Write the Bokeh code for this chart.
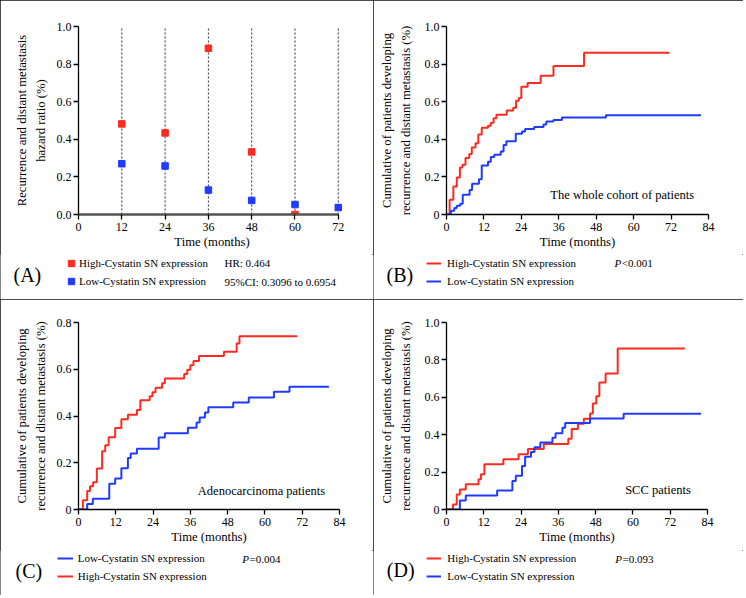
from bokeh.plotting import figure
from bokeh.layouts import column, row
from bokeh.models import Legend, LegendItem, Label, FixedTicker, PrintfTickFormatter, Range1d
from bokeh.embed import file_html
from bokeh.resources import INLINE

FONT = "Liberation Serif"
RED = "#ff2a1f"
BLUE = "#1f3bff"

# ---------------- data ----------------
# (A) hazard ratio per time point
a_months = [12, 24, 36, 48, 60, 72]
a_high_months = [12, 24, 36, 48, 60]
a_high = [0.482, 0.434, 0.884, 0.333, 0.0]
a_low_months = [12, 24, 36, 48, 60, 72]
a_low = [0.270, 0.258, 0.130, 0.075, 0.053, 0.037]

# (B) whole cohort
b_high_t = [0, 1.0, 2.2, 3.3, 4.3, 5.1, 6.1, 7.3, 8.1, 9.3, 10.2, 11.3, 13.3, 14.2, 15.1, 16.0,
            19.3, 21.4, 22.3, 23.2, 24.0, 26.0, 30.2, 34.3, 44.1, 71.5]
b_high_v = [0, 0.078, 0.149, 0.197, 0.25, 0.265, 0.30, 0.322, 0.356, 0.379, 0.425, 0.461, 0.472,
            0.488, 0.512, 0.530, 0.553, 0.568, 0.605, 0.62, 0.68, 0.70, 0.738, 0.79, 0.861, 0.861]
b_low_t = [0, 1.4, 2.5, 3.3, 4.4, 5.2, 7.4, 8.2, 10.4, 11.3, 13.3, 14.2, 15.3, 17.4, 18.3, 19.2,
           22.2, 24.2, 25.2, 28.1, 31.1, 32.0, 34.3, 37.0, 51.1, 81.6]
b_low_v = [0, 0.02, 0.034, 0.046, 0.057, 0.105, 0.13, 0.164, 0.187, 0.26, 0.28, 0.306, 0.318,
           0.335, 0.37, 0.39, 0.429, 0.441, 0.455, 0.466, 0.479, 0.495, 0.503, 0.516, 0.528, 0.528]

# (C) adenocarcinoma
c_high_t = [0, 1.4, 2.8, 3.7, 4.7, 5.9, 7.6, 8.6, 9.7, 11.8, 13.8, 15.9, 18.8, 19.9, 22.9, 23.8,
            24.8, 26.9, 27.8, 34.0, 35.0, 36.0, 37.0, 38.8, 46.8, 50.9, 51.8, 70.4]
c_high_v = [0, 0.04, 0.079, 0.099, 0.117, 0.175, 0.249, 0.275, 0.309, 0.349, 0.386, 0.405, 0.426,
            0.467, 0.485, 0.502, 0.521, 0.54, 0.56, 0.58, 0.598, 0.617, 0.635, 0.657, 0.675, 0.71,
            0.741, 0.741]
c_low_t = [0, 2.8, 4.6, 9.9, 11.8, 13.8, 15.9, 16.8, 18.8, 25.8, 27.8, 35.2, 38.0, 39.0, 40.7,
           41.8, 49.8, 54.8, 62.9, 67.9, 80.6]
c_low_v = [0, 0.024, 0.046, 0.11, 0.133, 0.176, 0.22, 0.24, 0.26, 0.308, 0.326, 0.35, 0.372,
           0.394, 0.415, 0.437, 0.458, 0.479, 0.504, 0.525, 0.525]

# (D) SCC
d_high_t = [0, 2.1, 3.3, 4.3, 6.2, 10.3, 11.1, 12.2, 18.3, 23.2, 26.2, 31.3, 39.2, 40.3, 42.3,
            44.2, 46.2, 47.1, 48.2, 49.2, 51.2, 55.1, 76.7]
d_high_v = [0, 0.027, 0.08, 0.107, 0.135, 0.162, 0.189, 0.242, 0.269, 0.296, 0.324, 0.35, 0.378,
            0.431, 0.458, 0.485, 0.513, 0.567, 0.606, 0.679, 0.727, 0.861, 0.861]
d_low_t = [0, 4.3, 6.2, 16.3, 21.2, 22.3, 24.3, 25.3, 27.2, 28.3, 30.2, 34.1, 35.1, 37.3, 38.2,
           46.2, 57.0, 81.9]
d_low_v = [0, 0.048, 0.075, 0.102, 0.153, 0.18, 0.232, 0.282, 0.307, 0.333, 0.358, 0.384, 0.408,
           0.437, 0.462, 0.487, 0.512, 0.512]

x_ticks_a = [0, 12, 24, 36, 48, 60, 72]
x_ticks_km = [0, 12, 24, 36, 48, 60, 72, 84]
y_ticks_10 = [0, 0.2, 0.4, 0.6, 0.8, 1.0]
y_ticks_08 = [0, 0.2, 0.4, 0.6, 0.8]

HIGH = "High-Cystatin SN expression"
LOW = "Low-Cystatin SN expression"
XLAB = "Time (months)"
YLAB_KM = "Cumulative of patients developing\nrecurrence and distant metastasis (%)"
YLAB_A = "Recurrence and distant metastasis\nhazard ratio (%)"

PANEL_STYLE = {"outline": "1px solid #111111", "outline-offset": "-1px"}


def make_fig(w, h, xr, yr, left, right, top, bottom, ylab_standoff):
    p = figure(width=w, height=h, x_range=xr, y_range=yr, title=None,
               output_backend="svg", toolbar_location=None,
               min_border_left=left, min_border_right=right,
               min_border_top=top, min_border_bottom=bottom)
    p.grid.visible = False
    p.outline_line_color = None
    p.background_fill_color = "white"
    p.border_fill_color = "white"
    for ax in (p.xaxis, p.yaxis):
        ax.axis_line_color = "black"
        ax.axis_line_width = 1.3
        ax.major_tick_line_color = "black"
        ax.major_tick_line_width = 1.3
        ax.major_tick_out = 5
        ax.major_tick_in = 0
        ax.minor_tick_line_color = None
        ax.major_label_text_font = FONT
        ax.major_label_text_font_size = "12px"
        ax.major_label_text_color = "black"
        ax.axis_label_text_font = FONT
        ax.axis_label_text_font_size = "12.7px"
        ax.axis_label_text_font_style = "normal"
        ax.axis_label_text_color = "black"
    p.xaxis.major_label_standoff = 3
    p.yaxis.major_label_standoff = 2
    p.xaxis.axis_label_standoff = 1
    p.yaxis.axis_label_standoff = ylab_standoff
    p.yaxis.axis_label_text_line_height = 1.35
    p.yaxis.formatter = PrintfTickFormatter(format="%.1f")
    return p


def make_strip(w, h):
    s = figure(width=w, height=h, x_range=Range1d(0, w), y_range=Range1d(h, 0), title=None,
               output_backend="svg", toolbar_location=None,
               x_axis_location=None, y_axis_location=None,
               min_border_left=0, min_border_right=0, min_border_top=0, min_border_bottom=0)
    s.grid.visible = False
    s.outline_line_color = None
    s.background_fill_color = "white"
    s.border_fill_color = "white"
    return s


def add_legend(s, items, x, y, glyph_w, standoff):
    leg = Legend(items=[LegendItem(label=lab, renderers=[r]) for lab, r in items],
                 location=(x, y), orientation="vertical",
                 glyph_width=glyph_w, glyph_height=16, label_height=16, label_width=10,
                 label_standoff=standoff, spacing=2, padding=0, margin=0,
                 border_line_alpha=0, background_fill_alpha=0,
                 label_text_font=FONT, label_text_font_size="11px",
                 label_text_color="black")
    s.add_layout(leg)


def add_text(p, x, y, text, size="11px", style="normal"):
    p.add_layout(Label(x=x, y=y, text=text, text_font=FONT, text_font_size=size,
                       text_font_style=style, text_baseline="middle", text_align="left",
                       text_color="black"))


def step_key(s, t, v, color):
    # legend key only: the series itself is drawn in the main panel
    return s.step(t, v, mode="after", line_color=color, line_width=2, visible=False)


def square_key(s, t, v, color):
    return s.scatter(t, v, marker="square", size=6.5, color=color, visible=False)


# ---------------- (A) ----------------
pA = make_fig(373, 254, (0, 74), (0, 1.0), 78, 28, 26, 40, 6)
pA.segment(x0=a_months, y0=[0] * len(a_months), x1=a_months, y1=[1.0] * len(a_months),
           line_color="#333333", line_width=1, line_dash="2 2")
pA.scatter(a_high_months, a_high, marker="square", size=6.5, color=RED)
pA.scatter(a_low_months, a_low, marker="square", size=6.5, color=BLUE)
pA.xaxis.bounds = (0, 72)
pA.yaxis.bounds = (0, 1)
pA.xaxis.axis_line_color = "#555555"
pA.xaxis.axis_line_width = 2.5
pA.xaxis.ticker = FixedTicker(ticks=x_ticks_a)
pA.yaxis.ticker = FixedTicker(ticks=y_ticks_10)
pA.xaxis.axis_label = XLAB
pA.yaxis.axis_label = YLAB_A

sA = make_strip(373, 45)
add_legend(sA, [(HIGH, square_key(sA, a_high_months, a_high, RED)),
                (LOW, square_key(sA, a_low_months, a_low, BLUE))], 63, 10.3, 16, 0)
add_text(sA, 224, 8.7, "HR: 0.464")
add_text(sA, 224, 27, "95%CI: 0.3096 to 0.6954")
add_text(sA, 13, 20, "(A)", size="20px")

# ---------------- (B) ----------------
pB = make_fig(370, 254, (0, 84), (0, 1.0), 73, 35, 26, 40, 9)
pB.step(b_high_t, b_high_v, mode="after", line_color=RED, line_width=2)
pB.step(b_low_t, b_low_v, mode="after", line_color=BLUE, line_width=2)
pB.xaxis.ticker = FixedTicker(ticks=x_ticks_km)
pB.yaxis.ticker = FixedTicker(ticks=y_ticks_10)
pB.yaxis.major_label_overrides = {0: "0"}
pB.xaxis.axis_label = XLAB
pB.yaxis.axis_label = YLAB_KM
add_text(pB, 33.3, 0.105, "The whole cohort of patients", size="12.5px")

sB = make_strip(370, 45)
add_legend(sB, [(HIGH, step_key(sB, b_high_t, b_high_v, RED)),
                (LOW, step_key(sB, b_low_t, b_low_v, BLUE))], 53, 10.3, 15, 6)
add_text(sB, 241, 8.7, "P", style="italic")
add_text(sB, 248.3, 8.7, "<0.001")
add_text(sB, 13, 20, "(B)", size="20px")

# ---------------- (C) ----------------
pC = make_fig(373, 251, (0, 84), (0, 0.8), 78, 34, 23, 41, 6)
pC.step(c_high_t, c_high_v, mode="after", line_color=RED, line_width=2)
pC.step(c_low_t, c_low_v, mode="after", line_color=BLUE, line_width=2)
pC.xaxis.ticker = FixedTicker(ticks=x_ticks_km)
pC.yaxis.ticker = FixedTicker(ticks=y_ticks_08)
pC.yaxis.major_label_overrides = {0: "0"}
pC.xaxis.axis_label = XLAB
pC.yaxis.axis_label = YLAB_KM
add_text(pC, 38.4, 0.079, "Adenocarcinoma patients", size="12.5px")

sC = make_strip(373, 45)
add_legend(sC, [(LOW, step_key(sC, c_low_t, c_low_v, BLUE)),
                (HIGH, step_key(sC, c_high_t, c_high_v, RED))], 56.7, 11, 16, 5)
add_text(sC, 241.7, 8, "P", style="italic")
add_text(sC, 249, 8, "=0.004")
add_text(sC, 15, 20.7, "(C)", size="20px")

# ---------------- (D) ----------------
pD = make_fig(370, 251, (0, 84), (0, 1.0), 73, 36, 23, 41, 9)
pD.step(d_high_t, d_high_v, mode="after", line_color=RED, line_width=2)
pD.step(d_low_t, d_low_v, mode="after", line_color=BLUE, line_width=2)
pD.xaxis.ticker = FixedTicker(ticks=x_ticks_km)
pD.yaxis.ticker = FixedTicker(ticks=y_ticks_10)
pD.yaxis.major_label_overrides = {0: "0"}
pD.xaxis.axis_label = XLAB
pD.yaxis.axis_label = YLAB_KM
add_text(pD, 57.5, 0.102, "SCC patients", size="12.5px")

sD = make_strip(370, 45)
add_legend(sD, [(HIGH, step_key(sD, d_high_t, d_high_v, RED)),
                (LOW, step_key(sD, d_low_t, d_low_v, BLUE))], 53.3, 11, 15, 6)
add_text(sD, 241.7, 8, "P", style="italic")
add_text(sD, 249, 8, "=0.093")
add_text(sD, 13.3, 19.3, "(D)", size="20px")

colA = column(pA, row(sA), styles=PANEL_STYLE)
colB = column(pB, row(sB), styles=PANEL_STYLE)
colC = column(pC, row(sC), styles=PANEL_STYLE)
colD = column(pD, row(sD), styles=PANEL_STYLE)
layout = column(row(colA, colB), row(colC, colD))
open("out.html", "w").write(file_html(layout, INLINE))
